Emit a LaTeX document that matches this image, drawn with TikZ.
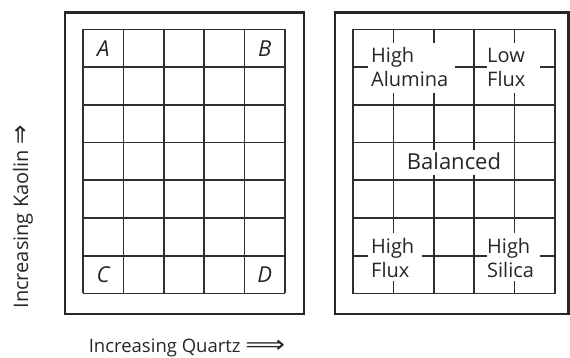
\documentclass[tikz,border=0pt]{standalone}
\usepackage{fontspec}
\usepackage{graphicx}
\setmainfont{Open Sans}
\newfontfamily\arrowfont{DejaVu Sans}
\begin{document}
\begin{tikzpicture}[x=1pt,y=-1pt,
  outer/.style={draw=black!85, line width=2.2pt},
  gridline/.style={draw=black!82, line width=1.6pt},
  lbl/.style={font=\fontsize{20}{24}\selectfont, text=black!85, inner sep=0pt, anchor=base west},
  corner/.style={font=\fontsize{22}{24}\selectfont\itshape, text=black!85, inner sep=0pt},
  axis/.style={text=black!85, inner sep=0pt, anchor=base}]
\useasboundingbox (0,0) rectangle (570,358);
% left panel
\draw[outer] (65,12.5) rectangle (304,314);
\begin{scope}[shift={(83,29.5)}, xscale=40.4, yscale=37.7]
  \foreach \i in {0,...,5} \draw[gridline] (\i,0) -- (\i,7);
  \foreach \j in {0,...,7} \draw[gridline] (0,\j) -- (5,\j);
  \node[corner] (A) at (0.5,0.5) {A};
  \node[corner] (B) at (4.5,0.5) {B};
  \node[corner] (C) at (0.5,6.5) {C};
  \node[corner] (D) at (4.5,6.5) {D};
\end{scope}
% right panel
\draw[outer] (335,12.5) rectangle (568.5,314);
\begin{scope}[shift={(353,29.5)}, xscale=40.4, yscale=37.7]
  \draw[gridline] (0,0) rectangle (5,7);
  \foreach \j in {2,3,4,5} \draw[gridline] (0,\j) -- (5,\j);
  \draw[gridline] (0,1) -- (0.37,1) (2.52,1) -- (3.32,1) (4.63,1) -- (5,1);
  \draw[gridline] (0,6) -- (0.37,6) (1.71,6) -- (3.32,6) (4.63,6) -- (5,6);
  \draw[gridline] (1,0) -- (1,0.37) (1,1.68) -- (1,5.4) (1,6.68) -- (1,7);
  \draw[gridline] (2,0) -- (2,0.37) (2,1.68) -- (2,3.2) (2,3.85) -- (2,7);
  \draw[gridline] (3,0) -- (3,3.2) (3,3.85) -- (3,7);
  \draw[gridline] (4,0) -- (4,0.37) (4,1.68) -- (4,5.4) (4,6.68) -- (4,7);
\end{scope}
\node[lbl] (ha1) at (371,62.5) {High};
\node[lbl] (ha2) at (371,86.5) {Alumina};
\node[lbl] (lf1) at (487,62.5) {Low};
\node[lbl] (lf2) at (487,86.5) {Flux};
\node[lbl] (hf1) at (371,253.3) {High};
\node[lbl] (hf2) at (371,277.3) {Flux};
\node[lbl] (hs1) at (487,253.3) {High};
\node[lbl] (hs2) at (487,277.3) {Silica};
\node[lbl, anchor=base, font=\fontsize{22}{24}\selectfont] (bal) at (454,170) {Balanced};
% axis labels
\node[axis, rotate=90, font=\fontsize{20}{24}\selectfont] (ylab) at (28,217) {Increasing Kaolin {\arrowfont\scalebox{1.15}[1.25]{⇒}}};
\node[axis, font=\fontsize{18.5}{22}\selectfont] (xlab) at (187,352.5) {Increasing Quartz {\arrowfont\scalebox{1.5}[1.25]{⟹}}};
\end{tikzpicture}
\end{document}
